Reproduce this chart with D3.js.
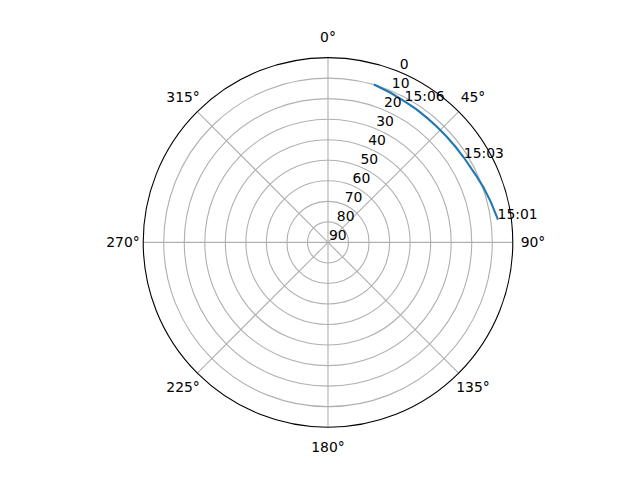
<!DOCTYPE html>
<html>
<head>
<meta charset="utf-8">
<script src="https://cdn.jsdelivr.net/npm/d3@7"></script>
<style>
html, body { margin: 0; padding: 0; background: #fff; }
svg { display: block; }
text { font-family: "DejaVu Sans", sans-serif; font-size: 13.9px; fill: #000; }
</style>
</head>
<body>
<svg id="chart" width="640" height="480"></svg>
<script>
// Pass data (time, azimuth in degrees, elevation in degrees)
const times = ["15:01:00","15:01:30","15:02:00","15:02:30","15:03:00","15:03:30","15:04:00","15:04:30","15:05:00","15:05:30","15:06:00","15:06:30","15:07:00"];
const azimuth = [82, 76, 70.5, 65.5, 58, 53, 48, 43, 38.5, 33.5, 28.5, 22.5, 16.6];
const elevation = [6.6, 8.3, 9.7, 10.9, 12.0, 12.4, 12.6, 12.6, 12.5, 12.2, 11.8, 11.0, 10.0];
// Times annotated on the track
const labelTimes = ["15:01:00", "15:03:00", "15:06:00"];
const labelTexts = ["15:01", "15:03", "15:06"];
// Axis ticks
const radialTicks = [0, 10, 20, 30, 40, 50, 60, 70, 80, 90];
const angleTicks = [0, 45, 90, 135, 180, 225, 270, 315];
const angleTickLabels = ["0°", "45°", "90°", "135°", "180°", "225°", "270°", "315°"];

const svg = d3.select("#chart");
const cx = 328, cy = 242.4, R = 184.8;
const rScale = d3.scaleLinear().domain([90, 0]).range([0, R]);
const aScale = d3.scaleLinear().domain([0, 360]).range([0, 2 * Math.PI]);

const g = svg.append("g").attr("transform", `translate(${cx},${cy})`);
const px = (a, r) => r * Math.sin(aScale(a));
const py = (a, r) => -r * Math.cos(aScale(a));

// background
g.append("circle").attr("r", R).attr("fill", "#fff");

// circular grid
g.selectAll("circle.grid")
  .data(radialTicks.filter(v => v > 0 && v < 90))
  .join("circle")
  .attr("class", "grid")
  .attr("r", d => rScale(d))
  .attr("fill", "none")
  .attr("stroke", "#b0b0b0")
  .attr("stroke-width", 1.1);

// angular grid
g.selectAll("line.agrid")
  .data(angleTicks)
  .join("line")
  .attr("class", "agrid")
  .attr("x1", 0).attr("y1", 0)
  .attr("x2", d => px(d, R)).attr("y2", d => py(d, R))
  .attr("stroke", "#b0b0b0")
  .attr("stroke-width", 1.1);

// track
const pts = times.map((t, i) => ({ t, az: azimuth[i], el: elevation[i] }));
const line = d3.lineRadial()
  .angle(d => aScale(d.az))
  .radius(d => rScale(d.el));
g.append("path")
  .datum(pts)
  .attr("d", line)
  .attr("fill", "none")
  .attr("stroke", "#1f77b4")
  .attr("stroke-width", 2.08)
  .attr("stroke-linecap", "square");

// spine
g.append("circle").attr("r", R).attr("fill", "none").attr("stroke", "#000").attr("stroke-width", 1.1);

// radial tick labels at 22.5°
g.selectAll("text.rlab")
  .data(radialTicks)
  .join("text")
  .attr("class", "rlab")
  .attr("x", d => px(22.5, rScale(d)) + 1)
  .attr("y", d => py(22.5, rScale(d)) - 2.5)
  .attr("text-anchor", "start")
  .text(d => d);

// angular tick labels
g.selectAll("text.alab")
  .data(angleTicks)
  .join("text")
  .attr("class", "alab")
  .attr("x", d => px(d, 205))
  .attr("y", d => py(d, 205) + 5)
  .attr("text-anchor", "middle")
  .text((d, i) => angleTickLabels[i]);

// time annotations
g.selectAll("text.tlab")
  .data(labelTimes)
  .join("text")
  .attr("class", "tlab")
  .attr("x", (t) => { const p = pts.find(q => q.t === t); return px(p.az, rScale(p.el)); })
  .attr("y", (t) => { const p = pts.find(q => q.t === t); return py(p.az, rScale(p.el)); })
  .attr("text-anchor", "start")
  .text((t, i) => labelTexts[i]);
</script>
</body>
</html>
